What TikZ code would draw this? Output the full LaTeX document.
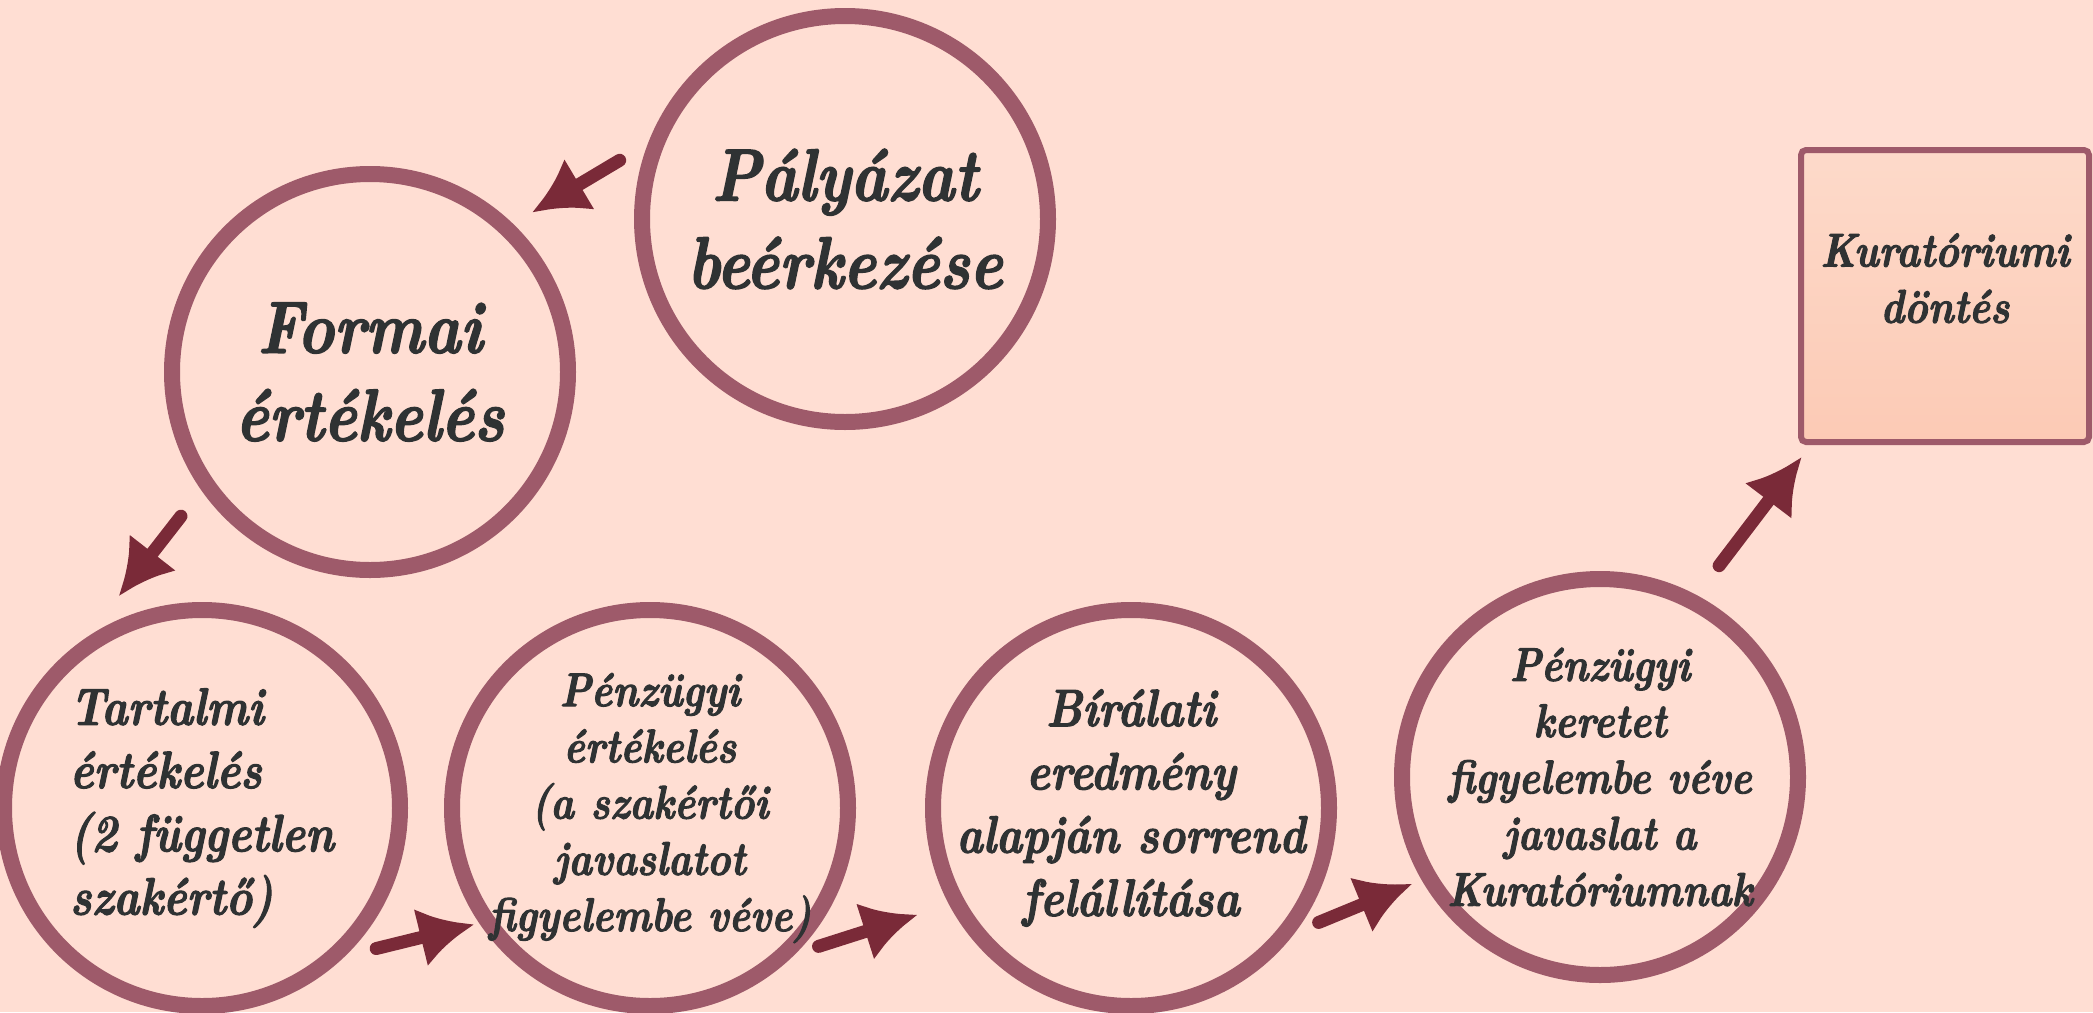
\documentclass[tikz,border=0pt]{standalone}
\usepackage{fontspec}
\usetikzlibrary{arrows.meta,positioning}
\newfontfamily\stagefont{lmroman10-bolditalic.otf}[FakeStretch=0.84,FakeBold=2]
\definecolor{Blush}{HTML}{FFDED3}
\definecolor{Mauve}{HTML}{9E5A6A}
\definecolor{Wine}{HTML}{7A2A38}
\definecolor{Ink}{HTML}{2F3233}
\definecolor{PeachTop}{HTML}{FDDACA}
\definecolor{PeachBot}{HTML}{FCCAB5}

\begin{document}
\begin{tikzpicture}[
  text=Ink,
  stage/.style={circle,draw=Mauve,line width=0.16cm,outer sep=0.08cm,
    minimum size=3.96cm,inner sep=-1.2cm,align=center},
  bigtxt/.style={font=\fontsize{21}{25}\stagefont},
  midtxt/.style={font=\fontsize{15}{18}\stagefont},
  smalltxt/.style={font=\fontsize{13.5}{16}\stagefont},
  box/.style={rectangle,draw=Mauve,line width=0.06cm,outer sep=0.03cm,
    rounded corners=0.05cm,minimum width=2.88cm,minimum height=2.92cm,
    top color=PeachTop,bottom color=PeachBot},
  flow/.style={-{Latex[length=5.5mm,width=6mm]},line width=0.13cm,
    line cap=round,draw=Wine}
]
  \useasboundingbox (0,0) rectangle (20.93,10.12);
  \fill[Blush] (0,0) rectangle (20.93,10.12);

  % Upper row
  \node[stage,bigtxt,minimum size=4.06cm] (pal) at (8.45,7.93) {Pályázat\\beérkezése};
  \node[stage,bigtxt] (form) at (3.70,6.40) {Formai\\értékelés};

  % Lower row
  \node[stage,midtxt,align=left] (tart) at (2.02,2.04)
    {Tartalmi\\értékelés\\(2 független\\szakértő)};
  \node[stage,smalltxt] (penz) at (6.50,2.04)
    {Pénzügyi\\értékelés\\(a szakértői\\javaslatot\\figyelembe véve)};
  \node[stage,midtxt] (bir) at (11.31,2.04)
    {Bírálati\\eredmény\\alapján sorrend\\felállítása};
  \node[stage,smalltxt] (ker) at (16.00,2.35)
    {Pénzügyi\\keretet\\figyelembe véve\\javaslat a\\Kuratóriumnak};

  % Decision
  \node[box] (kur) at (19.45,7.16) {};
  \node[smalltxt,align=center,below=0.74cm of kur.north] (kurtxt) {Kuratóriumi\\döntés};

  % Arrows
  \draw[flow,shorten <=0.33cm,shorten >=0.22cm] (pal.159) -- (form.46);
  \draw[flow,shorten <=0.33cm,shorten >=0.52cm] (form.215) -- (tart.124);
  \draw[flow,shorten <=0.32cm,shorten >=0.05cm] (tart.314) -- (penz.214);
  \draw[flow,shorten <=0.24cm,shorten >=0.33cm] (penz.315) -- (bir.208);
  \draw[flow,shorten <=0.25cm,shorten >=0.10cm] (bir.323) -- (ker.210);
  \draw[flow,shorten <=0.37cm,shorten >=0.15cm] (ker.62) -- (kur.228);
\end{tikzpicture}
\end{document}
